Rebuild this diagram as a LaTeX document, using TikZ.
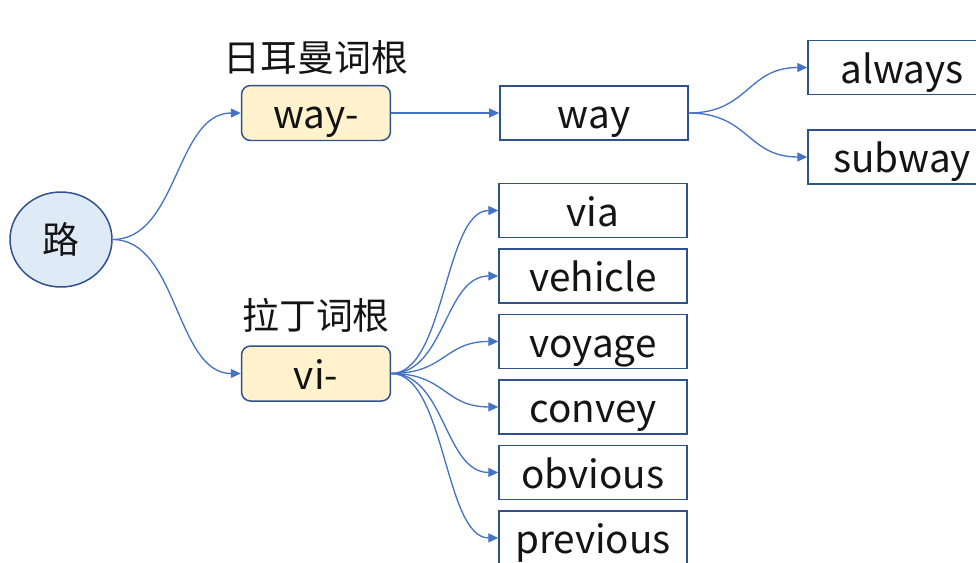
\documentclass[tikz,border=0pt]{standalone}
\usepackage{fontspec}
\setmainfont{Noto Sans CJK SC}
\usepackage{xcolor}
\usetikzlibrary{arrows.meta,positioning,shapes.geometric}
\definecolor{linkblue}{RGB}{68,114,196}
\definecolor{edgeblue}{RGB}{47,82,143}
\definecolor{rootfill}{RGB}{222,235,247}
\definecolor{stemfill}{RGB}{255,242,204}
\definecolor{inkgrey}{RGB}{20,20,20}
\newcommand{\wordfont}{\fontsize{22}{26}\selectfont}
\newcommand{\tagfont}{\fontsize{21}{25}\selectfont}

\begin{document}
\begin{tikzpicture}[x=0.02cm, y=-0.02cm, node distance=0.2cm, every node/.style={text=inkgrey},
        root/.style={ellipse,draw=edgeblue,fill=rootfill,line width=0.85pt,
          minimum width=2.04cm,minimum height=1.9cm,inner sep=0pt,font=\tagfont},
        stem/.style={rectangle,rounded corners=0.18cm,draw=edgeblue,fill=stemfill,line width=0.85pt,
          minimum width=2.98cm,minimum height=1.1cm,inner ysep=0pt,
          text height=21pt,text depth=3pt,font=\wordfont},
        word/.style={rectangle,draw=edgeblue,line width=0.85pt,
          minimum width=3.76cm,minimum height=1.08cm,inner ysep=0pt,
          text height=21pt,text depth=3pt,font=\wordfont},
        tag/.style={inner sep=0pt,font=\tagfont},
        link/.style={-{Triangle[length=0.2cm,width=0.18cm]},draw=linkblue,line width=0.75pt}]
        \useasboundingbox (0,0) rectangle (976,562);
        \node[root] (lu) at (61,239.5) {路};
        \node[stem] (wayroot) at (316,113) {way-};
        \node[stem] (viroot) at (316,373.5) {vi-};
        \node[tag,above=0.2cm of wayroot] (germanic) {日耳曼词根};
        \node[tag,above=0.24cm of viroot] (latin) {拉丁词根};
        \node[word,right=2.16cm of wayroot] (way) {way};
        \node[word] (always) at (902,67.5) {always};
        \node[word,below=0.68cm of always] (subway) {subway};
        \node[word] (via) at (593,210.5) {via};
        \node[word,below=of via] (vehicle) {vehicle};
        \node[word,below=of vehicle] (voyage) {voyage};
        \node[word,below=of voyage] (convey) {convey};
        \node[word,below=of convey] (obvious) {obvious};
        \node[word,below=of obvious] (previous) {previous};
        % root to stems
        \draw[link] (lu.east) .. controls +(65,0) and +(-65,0) .. (wayroot.west);
        \draw[link] (lu.east) .. controls +(65,0) and +(-65,0) .. (viroot.west);
        % germanic branch
        \draw[link] (wayroot) -- (way);
        \draw[link] (way.east) .. controls +(60,0) and +(-60,0) .. (always.west);
        \draw[link] (way.east) .. controls +(60,0) and +(-60,0) .. (subway.west);
        % latin branch
        \draw[link] (viroot.east) .. controls +(54,0) and +(-54,0) .. (via.west);
        \draw[link] (viroot.east) .. controls +(54,0) and +(-54,0) .. (vehicle.west);
        \draw[link] (viroot.east) .. controls +(54,0) and +(-54,0) .. (voyage.west);
        \draw[link] (viroot.east) .. controls +(54,0) and +(-54,0) .. (convey.west);
        \draw[link] (viroot.east) .. controls +(54,0) and +(-54,0) .. (obvious.west);
        \draw[link] (viroot.east) .. controls +(54,0) and +(-54,0) .. (previous.west);
      \end{tikzpicture}
\end{document}
